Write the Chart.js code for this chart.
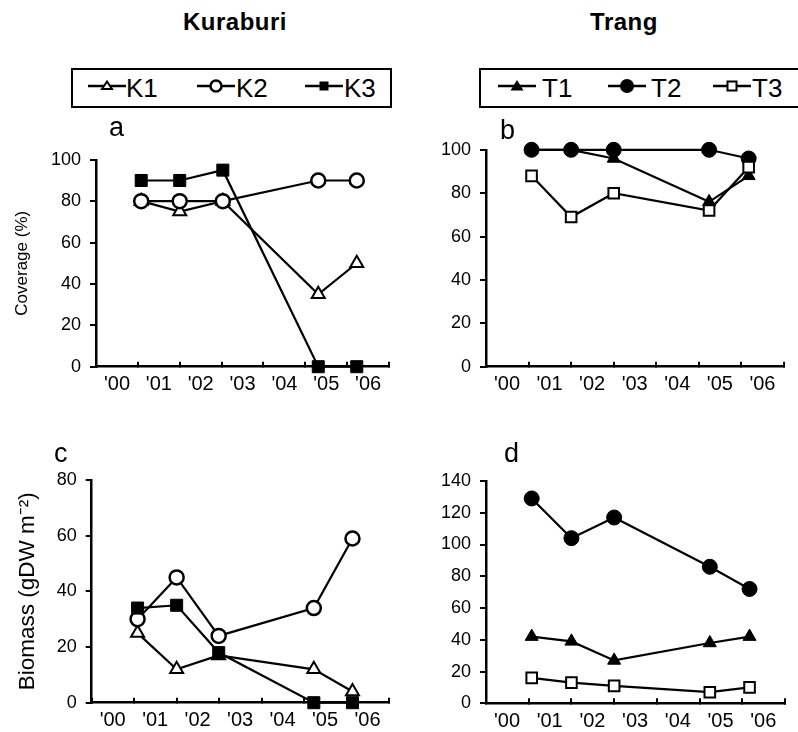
<!DOCTYPE html>
<html>
<head>
<meta charset="utf-8">
<script src="https://cdn.jsdelivr.net/npm/chart.js@4.4.1/dist/chart.umd.min.js"></script>
<style>
body{margin:0;background:#fff;width:798px;height:732px;position:relative;overflow:hidden;font-family:"Liberation Sans",Arial,sans-serif;color:#000}
canvas{position:absolute}
.site{position:absolute;top:10px;font-size:24px;font-weight:bold;line-height:24px;letter-spacing:0.5px;white-space:nowrap;transform:translateX(-50%)}
.box{position:absolute;top:68px;height:36px;border:2px solid #000}
.lbl{position:absolute;top:75px;font-size:26px;line-height:26px;white-space:nowrap}
.mk{position:absolute;top:76px}
.letter{position:absolute;font-size:27px;line-height:27px}
</style>
</head>
<body>
<div class="site" style="left:235px">Kuraburi</div>
<div class="site" style="left:624px">Trang</div>

<div class="box" style="left:71px;width:317px"></div>
<svg class="mk" style="left:88px" width="38" height="20"><line x1="0" y1="10" x2="38" y2="10" stroke="#000" stroke-width="2.5"/><polygon points="19,5.5 24,13 14,13" fill="#fff" stroke="#000" stroke-width="2"/></svg>
<div class="lbl" style="left:126px">K1</div>
<svg class="mk" style="left:197px" width="38" height="20"><line x1="0" y1="10" x2="38" y2="10" stroke="#000" stroke-width="2.5"/><circle cx="19" cy="10" r="5.5" fill="#fff" stroke="#000" stroke-width="2.5"/></svg>
<div class="lbl" style="left:236px">K2</div>
<svg class="mk" style="left:305px" width="38" height="20"><line x1="0" y1="10" x2="38" y2="10" stroke="#000" stroke-width="2.5"/><rect x="14.5" y="5.5" width="9" height="9" fill="#000"/></svg>
<div class="lbl" style="left:344px">K3</div>

<div class="box" style="left:479px;width:340px"></div>
<svg class="mk" style="left:498px" width="38" height="20"><line x1="0" y1="10" x2="38" y2="10" stroke="#000" stroke-width="2.5"/><polygon points="19,4 25.5,14.5 12.5,14.5" fill="#000"/></svg>
<div class="lbl" style="left:542px">T1</div>
<svg class="mk" style="left:608px" width="38" height="20"><line x1="0" y1="10" x2="38" y2="10" stroke="#000" stroke-width="2.5"/><circle cx="19" cy="10" r="7" fill="#000"/></svg>
<div class="lbl" style="left:651px">T2</div>
<svg class="mk" style="left:713px" width="38" height="20"><line x1="0" y1="10" x2="38" y2="10" stroke="#000" stroke-width="2.5"/><rect x="14.5" y="5.5" width="9" height="9" fill="#fff" stroke="#000" stroke-width="2"/></svg>
<div class="lbl" style="left:752px">T3</div>

<canvas id="pa" width="400" height="262" style="left:0;top:140px"></canvas>
<canvas id="pb" width="398" height="272" style="left:400px;top:130px"></canvas>
<canvas id="pc" width="400" height="272" style="left:0;top:460px"></canvas>
<canvas id="pd" width="398" height="272" style="left:400px;top:460px"></canvas>

<div class="letter" style="left:109px;top:114px">a</div>
<div class="letter" style="left:500px;top:117px">b</div>
<div class="letter" style="left:54px;top:440px">c</div>
<div class="letter" style="left:504px;top:440px">d</div>

<script>
// sampling dates (decimal years)
var coverDatesK = [2001.08, 2002.0, 2003.03, 2005.31, 2006.23];
var biomassDatesK = [2001.08, 2002.0, 2002.99, 2005.23, 2006.14];
var datesT = [2001.07, 2002.0, 2003.0, 2005.24, 2006.17];

var xTickLabels = ["'00", "'01", "'02", "'03", "'04", "'05", "'06"];

// a: coverage, Kuraburi
var coverK1 = [80, 75, 80, 35, 50];
var coverK2 = [80, 80, 80, 90, 90];
var coverK3 = [90, 90, 95, 0, 0];
// b: coverage, Trang
var coverT1 = [100, 100, 96, 76, 88];
var coverT2 = [100, 100, 100, 100, 96];
var coverT3 = [88, 69, 80, 72, 92];
// c: biomass, Kuraburi
var biomassK1 = [25, 12, 17, 12, 4];
var biomassK2 = [30, 45, 24, 34, 59];
var biomassK3 = [34, 35, 18, 0, 0];
// d: biomass, Trang
var biomassT1 = [42, 39, 27, 38, 42];
var biomassT2 = [129, 104, 117, 86, 72];
var biomassT3 = [16, 13, 11, 7, 10];

Chart.defaults.font.family = '"Liberation Sans", Arial, sans-serif';
Chart.defaults.font.size = 18;
Chart.defaults.color = '#000';

var styles = {
    K1: {pointStyle: 'triangle', pointRadius: 7.5, pointBackgroundColor: '#fff', pointBorderWidth: 2},
    K2: {pointStyle: 'circle', pointRadius: 7, pointBackgroundColor: '#fff', pointBorderWidth: 2.5},
    K3: {pointStyle: 'rect', pointRadius: 8.5, pointBackgroundColor: '#000', pointBorderWidth: 1},
    T1: {pointStyle: 'triangle', pointRadius: 7.5, pointBackgroundColor: '#000', pointBorderWidth: 1},
    T2: {pointStyle: 'circle', pointRadius: 7.5, pointBackgroundColor: '#000', pointBorderWidth: 1},
    T3: {pointStyle: 'rect', pointRadius: 7.5, pointBackgroundColor: '#fff', pointBorderWidth: 2}
};

function series(label, dates, vals, order) {
    var ds = {
        label: label,
        data: vals.map(function(v, i) { return {x: dates[i], y: v}; }),
        borderColor: '#000',
        borderWidth: 2.2,
        pointBorderColor: '#000',
        tension: 0,
        clip: false,
        order: order
    };
    return Object.assign(ds, styles[label]);
}

function panel(id, datasets, yMax, box, title) {
    return new Chart(document.getElementById(id), {
        type: 'line',
        data: {datasets: datasets},
        options: {
            responsive: false,
            animation: false,
            devicePixelRatio: 1,
            layout: {padding: {top: box.top, right: box.right, left: 0, bottom: 0}},
            plugins: {legend: {display: false}, tooltip: {enabled: false}},
            scales: {
                x: {
                    type: 'linear', min: 2000, max: 2007,
                    afterFit: function(s) { s.height = box.xh; },
                    ticks: {
                        stepSize: 1, autoSkip: false, maxRotation: 0, labelOffset: 21, padding: 11,
                        font: {size: 20},
                        callback: function(v) { return xTickLabels[Math.round(v - 2000)] || ''; }
                    },
                    grid: {drawOnChartArea: false, tickLength: -5, color: '#000', lineWidth: 2},
                    border: {color: '#000', width: 2.5}
                },
                y: {
                    min: 0, max: yMax,
                    afterFit: function(s) { s.width = box.yw; },
                    ticks: {stepSize: 20, padding: 9},
                    grid: {drawOnChartArea: false, tickLength: 6, color: '#000', lineWidth: 2},
                    border: {color: '#000', width: 2.5},
                    title: title ? {display: true, text: title.text, font: {size: title.size}, padding: {top: title.pad, bottom: 0}} : {display: false}
                }
            }
        }
    });
}

panel('pa', [
    series('K1', coverDatesK, coverK1, 2),
    series('K2', coverDatesK, coverK2, 1),
    series('K3', coverDatesK, coverK3, 0)
], 100, {top: 16, right: 9.3, yw: 96, xh: 35.3},
   {text: 'Coverage (%)', size: 17, pad: 12});

panel('pb', [
    series('T1', datesT, coverT1, 2),
    series('T2', datesT, coverT2, 1),
    series('T3', datesT, coverT3, 0)
], 100, {top: 19.3, right: 14, yw: 86, xh: 35.3});

panel('pc', [
    series('K1', biomassDatesK, biomassK1, 2),
    series('K2', biomassDatesK, biomassK2, 1),
    series('K3', biomassDatesK, biomassK3, 0)
], 80, {top: 20, right: 9.3, yw: 91.7, xh: 29.3},
   {text: 'Biomass (gDW m\u207B\u00B2)', size: 22.5, pad: 14});

panel('pd', [
    series('T1', datesT, biomassT1, 2),
    series('T2', datesT, biomassT2, 1),
    series('T3', datesT, biomassT3, 0)
], 140, {top: 21, right: 13, yw: 86, xh: 28.7});
</script>
</body>
</html>
